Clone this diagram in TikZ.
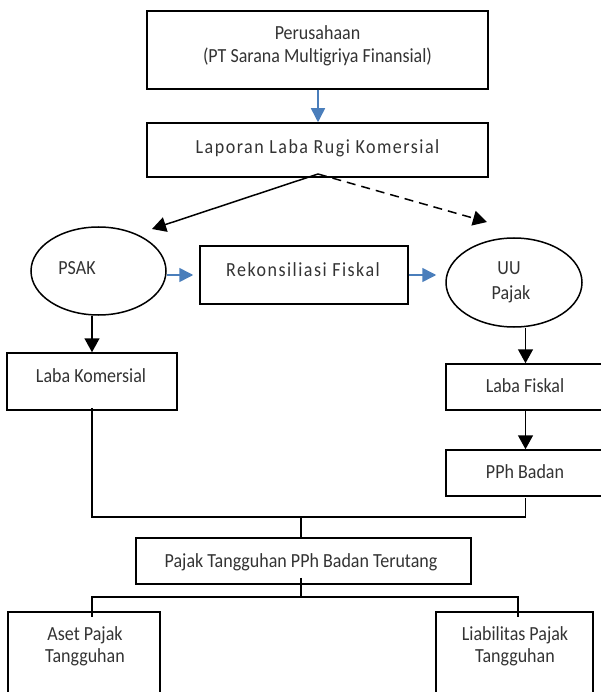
\documentclass[tikz,border=0pt]{standalone}
\usepackage{fontspec}
\setmainfont[FakeStretch=0.9,RawFeature=-liga]{Carlito}
\newfontfamily\spaced[FakeStretch=0.9,LetterSpace=7.5,RawFeature=-liga]{Carlito}
\usetikzlibrary{arrows.meta,shapes.geometric}
\definecolor{arrblue}{HTML}{4A7EBB}
\definecolor{txtcol}{HTML}{333333}
\tikzset{
  box/.style={draw, line width=1.5pt, rectangle, inner sep=0pt},
  oval/.style={draw, line width=1.5pt, ellipse, inner sep=0pt},
  txt/.style={font=\fontsize{20}{24}\selectfont, text=txtcol, inner sep=0pt, anchor=base},
  stxt/.style={txt, font=\fontsize{20}{24}\selectfont\spaced},
  conn/.style={line width=1.5pt},
  blk/.style={conn, -{Triangle[length=14pt,width=15pt]}},
  blu/.style={line width=1.5pt, arrblue, -{Triangle[length=14pt,width=14pt]}}
}
\begin{document}
\begin{tikzpicture}[x=1pt,y=-1pt]
\useasboundingbox (0,0) rectangle (600,692);
% boxes
\node[box, minimum width=341pt, minimum height=78pt] (per) at (317.5,50) {};
\node[box, minimum width=341pt, minimum height=54pt] (lap) at (317.5,150) {};
\node[oval, minimum width=135pt, minimum height=88pt] (psak) at (98.5,271) {};
\node[box, minimum width=208pt, minimum height=58pt] (rekon) at (304,275) {};
\node[oval, minimum width=136pt, minimum height=89pt] (uu) at (514,282.5) {};
\node[box, minimum width=170pt, minimum height=57pt] (lk) at (92,381.5) {};
\node[box, minimum width=159pt, minimum height=46pt] (lf) at (525.5,387) {};
\node[box, minimum width=159pt, minimum height=46pt] (pph) at (525.5,473) {};
\node[box, minimum width=335pt, minimum height=46pt] (ptang) at (303.5,561) {};
\node[box, minimum width=152pt, minimum height=88pt] (aset) at (84,656) {};
\node[box, minimum width=157pt, minimum height=88pt] (liab) at (514.5,656) {};
% texts
\node[txt] (t1a) at (317.5,39.5) {Perusahaan};
\node[txt] (t1b) at (317.5,63) {(PT Sarana Multigriya Finansial)};
\node[stxt] (t2) at (317.5,154) {Laporan Laba Rugi Komersial};
\node[txt] (t3) at (77,274) {PSAK};
\node[stxt] (t4) at (303,276) {Rekonsiliasi Fiskal};
\node[txt] (t5a) at (509,274) {UU};
\node[txt] (t5b) at (511,299) {Pajak};
\node[txt] (t6) at (91,382) {Laba Komersial};
\node[txt] (t7) at (525,392) {Laba Fiskal};
\node[txt] (t8) at (525,478) {PPh Badan};
\node[txt] (t9) at (301,567) {Pajak Tangguhan PPh Badan Terutang};
\node[txt] (t10a) at (85,640) {Aset Pajak};
\node[txt] (t10b) at (85,662) {Tangguhan};
\node[txt] (t11a) at (515,640) {Liabilitas Pajak};
\node[txt] (t11b) at (515,662) {Tangguhan};
% helper coordinates
\coordinate (fork) at (318,174);
\coordinate (psakin) at (152,229);
\coordinate (uuin) at (487,222);
\coordinate (join) at (301,517);
\coordinate (split) at (301,597);
\coordinate (ain) at (92,617);
\coordinate (lin) at (518,617);
% connectors
\draw[blu] (per.south -| fork) -- (lap.north -| fork);
\draw[blk] (fork) -- (psakin);
\draw[blk, dashed, dash pattern=on 9pt off 6pt] (fork) -- (uuin);
\draw[blu, shorten >=6pt] (psak.east |- rekon.center) -- (rekon.west);
\draw[blu, shorten >=9pt] (rekon.east) -- (uu.west |- rekon.center);
\draw[blk] (psak.south -| lk.north) -- (lk.north);
\draw[blk] (uu.south -| lf.north) -- (lf.north);
\draw[blk] (lf.south) -- (pph.north);
\draw[conn] ([yshift=3pt]lk.south) |- (join) -| ([yshift=-1pt]pph.south);
\draw[conn] (join) -- (join |- ptang.north);
\draw[conn] ([yshift=7pt]split |- ptang.south) -- (split);
\draw[conn] (split) -| (ain);
\draw[conn] (split) -| (lin);
\end{tikzpicture}
\end{document}
